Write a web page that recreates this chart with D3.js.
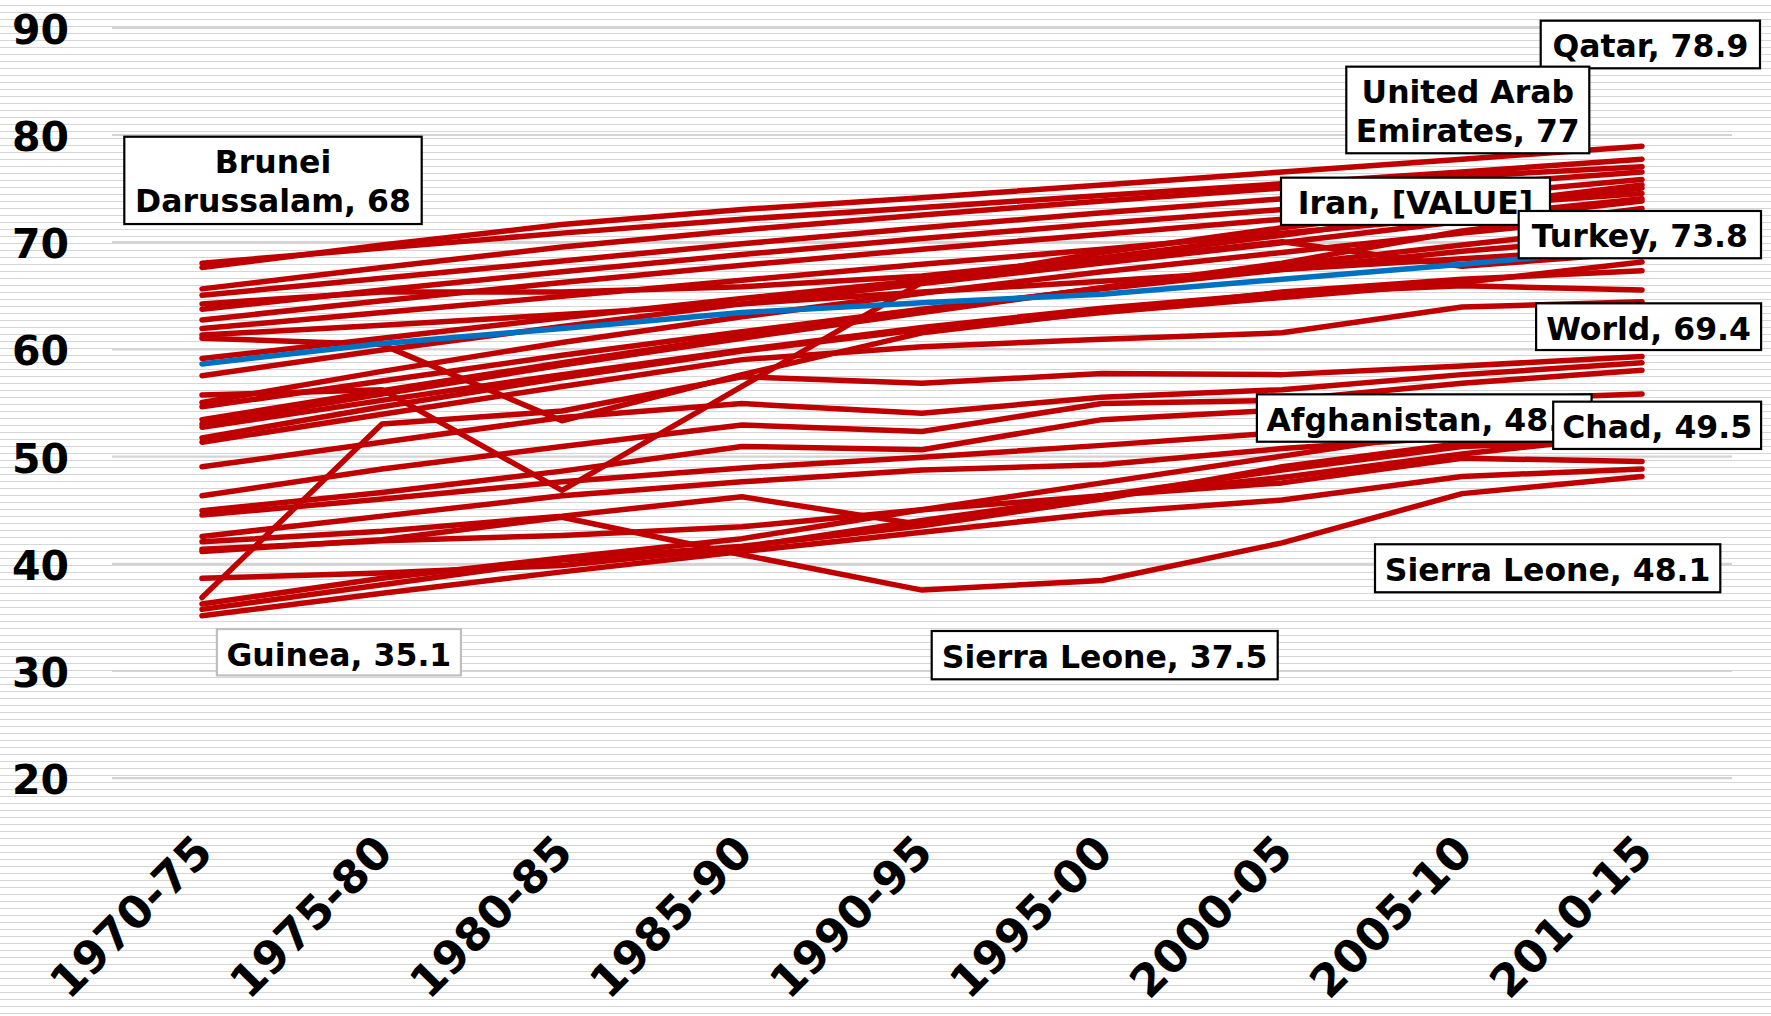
<!DOCTYPE html>
<html>
<head>
<meta charset="utf-8">
<script src="https://cdn.jsdelivr.net/npm/d3@7"></script>
<style>
  body { margin: 0; background: #fff; }
  svg { display: block; }
  text { font-family: "DejaVu Sans", Verdana, sans-serif; font-weight: bold; fill: #000; }
</style>
</head>
<body>
<svg id="chart" width="1771" height="1016"></svg>
<script>
// Life expectancy at birth (years), five-year periods
const periods = ["1970-75", "1975-80", "1980-85", "1985-90", "1990-95", "1995-00", "2000-05", "2005-10", "2010-15"];
const yTicks = [20, 30, 40, 50, 60, 70, 80, 90];

const world       = [58.6, 60.5, 61.9, 63.4, 64.3, 65.1, 66.5, 67.9, 69.4];
const qatar       = [67.6, 69.7, 71.6, 73.0, 74.1, 75.3, 76.5, 77.7, 78.9];
const brunei      = [68.0, 69.4, 70.8, 72.1, 73.2, 74.3, 75.4, 76.5, 77.7];
const uae         = [65.6, 67.6, 69.5, 71.1, 72.5, 73.8, 75.0, 76.1, 77.0];
const turkey      = [57.5, 59.9, 62.1, 64.2, 66.1, 68.0, 69.9, 71.9, 73.8];
const iran        = [55.7, 56.2, 46.8, 56.5, 66.2, 69.0, 71.3, 73.3, 75.3];
const afghanistan = [42.0, 43.0, 44.4, 46.2, 43.6, 46.3, 48.7, 50.9, 51.5];
const chad        = [41.3, 42.1, 42.6, 43.4, 45.0, 46.3, 47.5, 49.8, 49.5];
const sierraLeone = [41.1, 42.2, 44.3, 40.8, 37.5, 38.4, 41.9, 46.5, 48.1];
const guinea      = [35.1, 37.2, 39.2, 41.1, 42.9, 44.7, 45.9, 48.1, 48.8];

const otherCountries = [
  [65.0, 66.6, 68.2, 69.8, 71.3, 72.7, 74.0, 75.3, 76.5],
  [64.2, 65.3, 65.3, 65.8, 66.8, 68.5, 70.6, 72.9, 75.0],
  [63.7, 65.5, 67.2, 68.8, 70.3, 71.7, 73.0, 74.3, 75.8],
  [62.7, 64.5, 66.2, 67.8, 69.3, 70.7, 72.1, 73.3, 74.5],
  [61.9, 63.4, 64.9, 66.4, 67.9, 69.3, 70.8, 72.3, 74.0],
  [61.3, 62.2, 63.2, 64.2, 65.3, 66.3, 67.4, 68.4, 69.5],
  [61.0, 60.4, 53.3, 57.6, 61.5, 63.5, 65.3, 66.5, 67.3],
  [59.1, 61.0, 62.9, 64.7, 66.4, 68.2, 70.0, 67.7, 69.0],
  [55.0, 57.9, 60.6, 63.0, 65.2, 67.2, 69.0, 70.8, 72.5],
  [54.6, 57.0, 59.4, 61.6, 63.7, 65.6, 67.4, 69.1, 70.5],
  [53.4, 56.1, 58.7, 61.2, 63.5, 65.7, 67.8, 69.7, 71.5],
  [53.0, 55.8, 58.5, 61.0, 63.4, 65.7, 68.0, 71.0, 73.1],
  [52.7, 55.2, 57.6, 59.9, 62.0, 63.8, 65.2, 65.9, 65.5],
  [51.7, 54.6, 57.3, 59.8, 61.8, 63.4, 64.8, 66.2, 68.1],
  [51.3, 53.9, 56.5, 59.0, 60.2, 60.9, 61.5, 63.9, 64.4],
  [36.8, 53.0, 54.2, 57.4, 56.8, 57.7, 57.6, 58.4, 59.3],
  [49.0, 51.3, 53.6, 54.9, 54.0, 55.5, 56.2, 57.6, 58.7],
  [46.3, 48.8, 50.9, 52.9, 52.3, 54.9, 55.2, 56.8, 58.0],
  [44.9, 46.6, 48.6, 50.9, 50.6, 53.4, 54.3, 55.2, 55.8],
  [44.5, 46.0, 47.6, 48.9, 49.9, 51.0, 52.2, 53.4, 54.5],
  [42.5, 44.4, 46.3, 47.6, 48.7, 49.2, 50.7, 51.8, 53.0],
  [38.6, 39.1, 39.8, 41.5, 44.0, 46.3, 48.0, 50.2, 52.0],
  [36.2, 38.6, 40.5, 42.3, 45.0, 47.5, 50.0, 52.5, 53.8],
  [35.7, 38.0, 40.3, 41.6, 43.5, 46.0, 49.0, 51.2, 51.0]
];

const redSeries = [qatar, brunei, uae, turkey, iran, afghanistan, chad, sierraLeone, guinea, ...otherCountries];

// Boxed call-outs: name lines, series, period index, value text (null = use the series value)
const callouts = [
  { name: ["Brunei", "Darussalam"], series: brunei, at: 0, text: null },
  { name: ["Qatar"], series: qatar, at: 8, text: null },
  { name: ["United Arab", "Emirates"], series: uae, at: 8, text: null },
  { name: ["Iran"], series: iran, at: 6, text: "[VALUE]" },
  { name: ["Turkey"], series: turkey, at: 8, text: null },
  { name: ["World"], series: world, at: 8, text: null },
  { name: ["Afghanistan"], series: afghanistan, at: 6, text: null },
  { name: ["Chad"], series: chad, at: 8, text: null },
  { name: ["Sierra Leone"], series: sierraLeone, at: 8, text: null },
  { name: ["Sierra Leone"], series: sierraLeone, at: 4, text: null },
  { name: ["Guinea"], series: guinea, at: 0, text: null }
];

const W = 1771, H = 1016;
const plotLeft = 112, plotRight = 1732;
const svg = d3.select("#chart");

// striped background across the whole picture
const defs = svg.append("defs");
const pat = defs.append("pattern")
  .attr("id", "stripes").attr("patternUnits", "userSpaceOnUse")
  .attr("width", W).attr("height", 7);
pat.append("rect").attr("width", W).attr("height", 7).attr("fill", "#fff");
pat.append("rect").attr("y", 5).attr("width", W).attr("height", 1).attr("fill", "#d6d6d6");
svg.append("rect").attr("width", W).attr("height", H).attr("fill", "url(#stripes)");

const x = d3.scaleBand().domain(periods).range([plotLeft, plotRight]);
const cx = p => x(p) + x.bandwidth() / 2;
const y = d3.scaleLinear().domain([20, 90]).range([777.7, 27.3]);

// value axis with gridlines
const yAxis = d3.axisLeft(y).tickValues(yTicks).tickSize(-(plotRight - plotLeft)).tickPadding(43);
const gy = svg.append("g").attr("transform", `translate(${plotLeft},0)`).call(yAxis);
gy.select(".domain").remove();
gy.selectAll(".tick line").attr("stroke", "#d4d4d4").attr("stroke-width", 2.2);
gy.selectAll(".tick text").attr("font-size", 41).attr("dy", "0.39em")
  .style("font-family", '"DejaVu Sans", Verdana, sans-serif').style("font-weight", "bold").attr("fill", "#000");

// category axis, rotated labels
const xAxis = d3.axisBottom(x).tickSize(0);
const gx = svg.append("g").attr("transform", "translate(0,777.7)").call(xAxis);
gx.select(".domain").remove();
gx.selectAll(".tick text")
  .attr("font-size", 45).attr("x", 0).attr("y", 0).attr("dy", 0)
  .style("text-anchor", "end")
  .style("font-family", '"DejaVu Sans", Verdana, sans-serif').style("font-weight", "bold")
  .attr("fill", "#000")
  .attr("transform", "translate(13,77) rotate(-45)");

// series lines
const line = d3.line().x((d, i) => cx(periods[i])).y(d => y(d));
svg.append("g").selectAll("path").data(redSeries).join("path")
  .attr("d", line).attr("fill", "none")
  .attr("stroke", "#C00000").attr("stroke-width", 5.5)
  .attr("stroke-linejoin", "round").attr("stroke-linecap", "round");
svg.append("path").datum(world).attr("d", line).attr("fill", "none")
  .attr("stroke", "#0070C0").attr("stroke-width", 5.5)
  .attr("stroke-linejoin", "round").attr("stroke-linecap", "round");

// call-out boxes, offset from the point they describe: [dx, dy, width, height]
const boxLayout = [
  [-77.7, -126.4, 297.4, 87.3],
  [-101.3, -125.6, 219.3, 47.6],
  [-295.7, -100.0, 243.0, 86.6],
  [-1.0, -50.1, 269.0, 47.3],
  [-123.3, 10.0, 242.3, 47.3],
  [-105.9, 55.2, 225.0, 46.7],
  [-25.1, -75.7, 334.7, 47.4],
  [-88.8, -59.8, 207.9, 47.3],
  [-267.0, 67.8, 345.3, 48.0],
  [9.7, 40.9, 346.0, 48.3],
  [14.9, 13.2, 244.0, 46.4]
];
const fmt = v => String(+v.toFixed(1));
const gl = svg.append("g");
callouts.forEach((c, k) => {
  const [dx, dy, w, h] = boxLayout[k];
  const px = cx(periods[c.at]), py = y(c.series[c.at]);
  const bx = px + dx, by = py + dy;
  const g = gl.append("g");
  g.append("rect").attr("x", bx).attr("y", by).attr("width", w).attr("height", h)
    .attr("fill", "#fff")
    .attr("stroke", c.series === guinea ? "#bfbfbf" : "#000").attr("stroke-width", 2.2);
  const value = c.text !== null ? c.text : fmt(c.series[c.at]);
  const rows = c.name.slice();
  rows[rows.length - 1] = rows[rows.length - 1] + ", " + value;
  rows.forEach((r, i) => {
    g.append("text").attr("x", bx + w / 2).attr("y", by + 36.5 + i * 39)
      .attr("text-anchor", "middle").attr("font-size", 31.5).text(r);
  });
});
</script>
</body>
</html>
